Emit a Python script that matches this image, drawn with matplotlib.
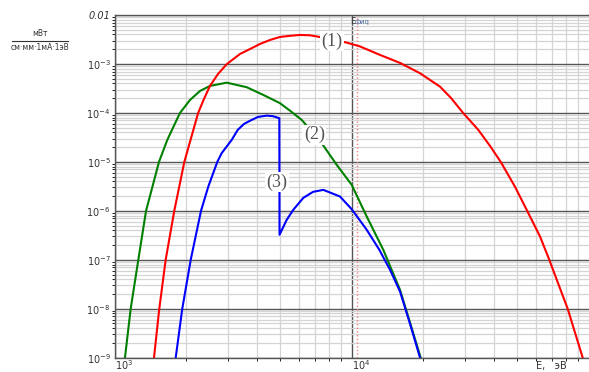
import numpy as np
import matplotlib.pyplot as plt
from matplotlib.ticker import LogLocator, NullFormatter

# curve (1) - red
e1 = [1465, 1542, 1641, 1784, 1967, 2250, 2375, 2524, 2729, 2977, 3379, 3724,
      4104, 4521, 4983, 5492, 6052, 6668, 7140, 9554, 10840, 13165, 15990,
      19420, 23590, 26240, 29570, 34210, 38330, 42540, 48870, 55000, 62300,
      68200, 74220, 81540, 87560, 94340]
v1 = [1e-9, 1e-8, 1e-7, 1e-6, 1e-5, 1e-4, 1.88e-4, 3.56e-4, 6.25e-4, 1e-3,
      1.6e-3, 2.02e-3, 2.56e-3, 3.09e-3, 3.56e-3, 3.76e-3, 3.91e-3, 3.85e-3,
      3.64e-3, 2.72e-3, 2.28e-3, 1.53e-3, 1.05e-3, 6.46e-4, 3.44e-4, 2.02e-4,
      9.9e-5, 4.5e-5, 2.12e-5, 1e-5, 3.1e-6, 1e-6, 3.0e-7, 1e-7, 3.34e-8,
      1e-8, 3.24e-9, 1e-9]

# curve (2) - green
e2 = [1105, 1168, 1258, 1356, 1538, 1667, 1826, 1886, 2079, 2291, 2524, 2969,
      3605, 4236, 4983, 5492, 6152, 7471, 8645, 10000, 11570, 13590, 15990,
      19550]
v2 = [1e-9, 1e-8, 1e-7, 1e-6, 1e-5, 2.81e-5, 7.2e-5, 1e-4, 1.84e-4, 2.81e-4,
      3.56e-4, 4.15e-4, 3.35e-4, 2.33e-4, 1.58e-4, 1.11e-4, 7.2e-5, 2.41e-5,
      8.69e-6, 3.4e-6, 7.66e-7, 1.6e-7, 2.44e-8, 1e-9]

# curve (3) - blue, with the absorption edge jump
e3 = [1809, 1928, 2093, 2313, 2483, 2710, 2828, 3117, 3304, 3513, 3785, 4024,
      4379, 4656, 4950, 4960, 5318, 5670, 6248, 6867, 7590, 8925, 10000,
      11570, 13080, 14510, 15990, 17620, 19420]
v3 = [1e-9, 1e-8, 1e-7, 1e-6, 3.13e-6, 1e-5, 1.51e-5, 2.81e-5, 4.5e-5,
      5.97e-5, 7.2e-5, 8.28e-5, 8.81e-5, 8.57e-5, 7.8e-5, 3.24e-7, 6.55e-7,
      1.05e-6, 1.84e-6, 2.44e-6, 2.68e-6, 1.96e-6, 1.08e-6, 4.1e-7, 1.6e-7,
      6.25e-8, 2.25e-8, 4.94e-9, 1e-9]

e_marker = 10560
ytick_vals = [1e-2, 1e-3, 1e-4, 1e-5, 1e-6, 1e-7, 1e-8, 1e-9]
ytick_text = ['0.01'] + [r'$\mathit{10^{-%d}}$' % k for k in range(3, 10)]
xtick_vals = [1e3, 1e4]
xtick_text = [r'$\mathit{10^{3}}$', r'$\mathit{10^{4}}$']

fig = plt.figure(figsize=(5.89, 3.72), dpi=100)
ax = fig.add_axes([114.7 / 589, 14.3 / 372, 474 / 589, 342.7 / 372])
ax.set_xscale('log')
ax.set_yscale('log')
ax.set_xlim(1e3, 1e5)
ax.set_ylim(1e-9, 1e-2)

ax.xaxis.set_minor_locator(LogLocator(base=10, subs=np.arange(2, 10)))
ax.yaxis.set_minor_locator(LogLocator(base=10, subs=np.arange(2, 10)))
ax.xaxis.set_minor_formatter(NullFormatter())
ax.yaxis.set_minor_formatter(NullFormatter())
ax.grid(which='minor', color='#d4d4d4', lw=0.9)
ax.grid(which='major', color='#555555', lw=1.0)
ax.set_axisbelow(True)

ax.set_yticks(ytick_vals)
ax.set_yticklabels(ytick_text, fontsize=7, color='#333333', style='italic')
ax.set_xticks(xtick_vals)
ax.set_xticklabels(xtick_text, fontsize=7, color='#333333', ha='left')
ax.tick_params(axis='y', length=0, pad=3)
ax.tick_params(axis='x', length=0, pad=0.5)

for s in ['left', 'bottom', 'top']:
    ax.spines[s].set_color('#555555')
    ax.spines[s].set_linewidth(1.0)
ax.spines['right'].set_visible(False)

ax.axvline(e_marker, color='#ff8080', ls=':', lw=1.0)

ax.plot(e2, v2, color='#008000', lw=1.5)
ax.plot(e1, v1, color='#ff0000', lw=1.5)
ax.plot(e3, v3, color='#0000ff', lw=1.5)

box = dict(facecolor='white', edgecolor='none', pad=1.0)
ax.text(8234, 2.95e-3, '(1)', fontsize=13, family='Liberation Serif',
        color='#555555', ha='center', va='center', bbox=box)
ax.text(6950, 3.6e-5, '(2)', fontsize=13, family='Liberation Serif',
        color='#555555', ha='center', va='center', bbox=box)
ax.text(4842, 3.9e-6, '(3)', fontsize=13, family='Liberation Serif',
        color='#555555', ha='center', va='center', bbox=box)

fig.text(350 / 589, 1 - 21 / 372, 'E', fontsize=6, color='#333333', va='center')
fig.text(355 / 589, 1 - 22 / 372, 'фиq', fontsize=5, color='#5070a0', va='center')

fig.text(551 / 589, 1 - 366 / 372, 'E,   эВ', fontsize=7, color='#333333',
         ha='center', va='center')

fig.text(40 / 589, 1 - 33 / 372, 'мВт', fontsize=5.5, color='#333333',
         ha='center', va='center')
fig.add_artist(plt.Line2D([12 / 589, 68 / 589], [1 - 40.5 / 372, 1 - 40.5 / 372],
                          color='#333333', lw=0.8))
fig.text(40 / 589, 1 - 47 / 372, 'см·мм·1мА·1эВ', fontsize=5.5, color='#333333',
         ha='center', va='center')

fig.savefig('out.png', dpi=100)
